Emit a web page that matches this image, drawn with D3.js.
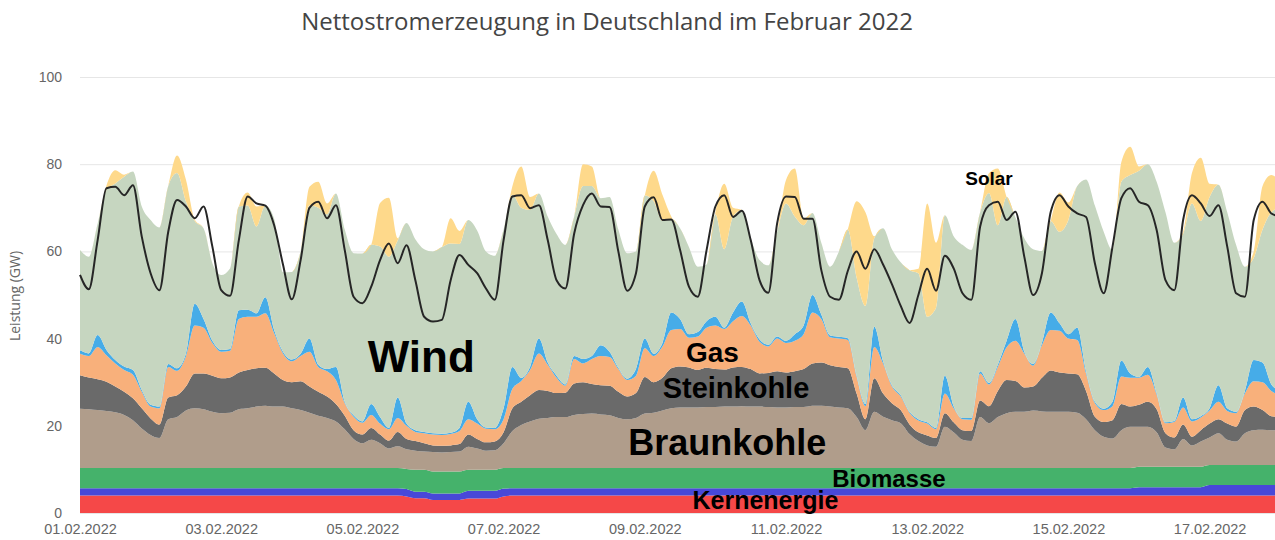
<!DOCTYPE html>
<html>
<head>
<meta charset="utf-8">
<script src="https://cdn.jsdelivr.net/npm/d3@7"></script>
<style>
	body { margin: 0; background: #fff; }
	svg { display: block; font-family: "Open Sans", "Noto Sans", sans-serif; }
	.tick text { fill: #666; }
	#y-axis .tick text { font-size: 14px; }
	#x-axis .tick text { font-size: 14.5px; }
	.title { fill: #444; font-size: 24px; }
	.axis-title { fill: #666; font-size: 14px; }
	.source-label { font-family: "Liberation Sans", Arial, sans-serif; font-weight: bold; fill: #000; }
</style>
</head>
<body>
<svg id="viz" width="1275" height="540"></svg>
<script>

// one value every 3 hours, starting 01.02.2022 00:00 (GW)
const startTime = new Date(2022, 1, 1, 0, 0);
const stepHours = 3;

const kernenergie = [
	4.0, 4.0, 4.0, 4.0, 4.0, 4.0, 4.0, 4.0,
	4.0, 4.0, 4.0, 4.0, 4.0, 4.0, 4.0, 4.0,
	4.0, 4.0, 4.0, 4.0, 4.0, 4.0, 4.0, 4.0,
	4.0, 4.0, 4.0, 4.0, 4.0, 4.0, 4.0, 4.0,
	4.0, 4.0, 4.0, 4.0, 4.0, 3.8, 3.4, 3.4,
	3.0, 3.0, 3.0, 3.0, 3.3, 3.3, 3.3, 3.3,
	3.8, 4.0, 4.0, 4.0, 4.0, 4.0, 4.0, 4.0,
	4.0, 4.0, 4.0, 4.0, 4.0, 4.0, 4.0, 4.0,
	4.0, 4.0, 4.0, 4.0, 4.0, 4.0, 4.0, 4.0,
	4.0, 4.0, 4.0, 4.0, 4.0, 4.0, 4.0, 4.0,
	4.0, 4.0, 4.0, 4.0, 4.0, 4.0, 4.0, 4.0,
	4.0, 4.0, 4.0, 4.0, 4.0, 4.0, 4.0, 4.0,
	4.0, 4.0, 4.0, 4.0, 4.0, 4.0, 4.0, 4.0,
	4.0, 4.0, 4.0, 4.0, 4.0, 4.0, 4.0, 4.0,
	4.0, 4.0, 4.0, 4.0, 4.0, 4.0, 4.0, 4.0,
	4.0, 4.0, 4.0, 4.0, 4.0, 4.0, 4.0, 4.0,
	4.0, 4.0, 4.0, 4.0, 4.0, 4.0, 4.0, 4.0,
	4.0
];

const wasserkraft = [
	1.7, 1.7, 1.7, 1.7, 1.7, 1.7, 1.7, 1.7,
	1.7, 1.7, 1.7, 1.7, 1.7, 1.7, 1.7, 1.7,
	1.7, 1.7, 1.7, 1.7, 1.7, 1.7, 1.7, 1.7,
	1.7, 1.7, 1.7, 1.7, 1.7, 1.7, 1.7, 1.7,
	1.7, 1.7, 1.7, 1.7, 1.7, 1.7, 1.5, 1.5,
	1.5, 1.5, 1.5, 1.5, 1.8, 1.8, 1.8, 1.8,
	1.8, 1.7, 1.7, 1.7, 1.7, 1.7, 1.7, 1.7,
	1.7, 1.7, 1.7, 1.7, 1.7, 1.7, 1.7, 1.7,
	1.7, 1.7, 1.7, 1.7, 1.7, 1.7, 1.7, 1.7,
	1.7, 1.7, 1.7, 1.7, 1.7, 1.7, 1.7, 1.7,
	1.7, 1.7, 1.7, 1.7, 1.7, 1.7, 1.7, 1.7,
	1.7, 1.7, 1.7, 1.7, 1.7, 1.7, 1.7, 1.7,
	1.7, 1.7, 1.7, 1.7, 1.7, 1.7, 1.7, 1.7,
	1.7, 1.7, 1.7, 1.7, 1.7, 1.7, 1.7, 1.7,
	1.7, 1.7, 1.7, 1.7, 1.7, 1.7, 1.7, 1.7,
	1.9, 1.9, 1.9, 1.9, 1.9, 1.9, 1.9, 1.9,
	2.4, 2.4, 2.4, 2.4, 2.4, 2.4, 2.4, 2.4,
	2.4
];

const biomasse = [
	4.6, 4.6, 4.6, 4.6, 4.6, 4.6, 4.6, 4.6,
	4.6, 4.6, 4.6, 4.6, 4.6, 4.6, 4.6, 4.6,
	4.6, 4.6, 4.6, 4.6, 4.6, 4.6, 4.6, 4.6,
	4.6, 4.6, 4.6, 4.6, 4.6, 4.6, 4.6, 4.6,
	4.6, 4.6, 4.6, 4.6, 4.6, 4.6, 5.0, 5.0,
	5.0, 5.0, 5.0, 5.0, 4.8, 4.8, 4.8, 4.8,
	4.7, 4.6, 4.6, 4.6, 4.6, 4.6, 4.6, 4.6,
	4.6, 4.6, 4.6, 4.6, 4.6, 4.6, 4.6, 4.6,
	4.6, 4.6, 4.6, 4.6, 4.6, 4.6, 4.6, 4.6,
	4.6, 4.6, 4.6, 4.6, 4.6, 4.6, 4.6, 4.6,
	4.6, 4.6, 4.6, 4.6, 4.6, 4.6, 4.6, 4.6,
	4.6, 4.6, 4.6, 4.6, 4.6, 4.6, 4.6, 4.6,
	4.6, 4.6, 4.6, 4.6, 4.6, 4.6, 4.6, 4.6,
	4.6, 4.6, 4.6, 4.6, 4.6, 4.6, 4.6, 4.6,
	4.6, 4.6, 4.6, 4.6, 4.6, 4.6, 4.6, 4.6,
	4.7, 4.7, 4.7, 4.7, 4.7, 4.7, 4.7, 4.7,
	4.6, 4.6, 4.6, 4.6, 4.6, 4.6, 4.6, 4.6,
	4.6
];

const braunkohle = [
	13.6, 13.5, 13.3, 13.1, 12.8, 12.2, 11.0, 9.1,
	7.6, 6.9, 11.2, 11.7, 13.2, 13.7, 13.5, 12.9,
	12.6, 12.7, 13.5, 13.7, 14.1, 14.3, 14.1, 14.1,
	13.7, 13.3, 12.7, 12.0, 11.5, 10.7, 8.9, 6.7,
	5.7, 6.5, 5.7, 4.5, 5.0, 4.5, 4.4, 4.2,
	4.5, 4.4, 4.5, 4.6, 5.3, 4.9, 4.4, 4.5,
	5.7, 8.5, 9.9, 10.7, 11.3, 11.5, 11.7, 11.7,
	12.2, 12.4, 12.5, 12.3, 12.1, 11.5, 11.2, 11.5,
	12.5, 12.7, 13.2, 13.7, 13.9, 13.9, 13.9, 14.0,
	14.0, 14.1, 14.1, 14.2, 14.1, 14.1, 14.0, 13.9,
	13.9, 14.0, 14.0, 14.3, 14.3, 14.1, 13.9, 13.7,
	11.7, 8.7, 12.9, 11.8, 11.0, 10.3, 7.8, 6.2,
	5.2, 4.9, 9.5, 8.2, 6.5, 6.2, 11.7, 10.3,
	11.7, 12.6, 12.9, 12.9, 13.2, 13.0, 12.9, 12.9,
	12.9, 12.7, 11.2, 8.7, 7.2, 6.8, 8.7, 9.5,
	9.2, 9.2, 7.9, 4.4, 4.0, 6.4, 4.9, 5.8,
	6.3, 7.3, 5.8, 5.4, 7.3, 8.0, 8.1, 8.0,
	8.0
];

const steinkohle = [
	7.7, 7.3, 7.1, 6.7, 5.9, 5.3, 5.0, 4.6,
	3.8, 3.1, 5.0, 5.0, 5.5, 8.0, 8.2, 8.3,
	8.0, 8.1, 8.4, 8.8, 8.8, 8.7, 7.6, 6.1,
	6.0, 6.6, 6.0, 5.5, 4.9, 4.0, 3.1, 2.0,
	2.0, 2.7, 2.0, 1.8, 3.3, 2.4, 2.2, 1.9,
	1.5, 1.5, 1.5, 1.7, 2.8, 2.2, 1.9, 2.0,
	2.5, 5.2, 5.3, 6.0, 6.6, 6.2, 5.5, 5.6,
	7.2, 7.3, 6.8, 6.7, 6.8, 6.0, 5.2, 5.7,
	8.4, 7.0, 7.5, 9.2, 9.4, 9.2, 8.6, 9.0,
	8.7, 8.5, 9.0, 9.0, 8.6, 7.6, 7.8, 8.3,
	8.0, 8.2, 8.7, 9.7, 9.9, 9.5, 9.3, 9.2,
	5.4, 2.5, 7.7, 5.3, 3.9, 3.0, 2.2, 2.0,
	2.3, 2.0, 3.1, 2.3, 2.2, 2.3, 3.8, 3.9,
	6.0, 7.6, 7.1, 5.6, 5.5, 7.7, 9.5, 9.0,
	8.8, 8.8, 6.5, 3.1, 3.4, 4.2, 6.0, 4.6,
	5.0, 5.7, 5.3, 3.3, 2.7, 3.3, 2.0, 2.6,
	3.2, 3.2, 3.7, 3.4, 5.3, 5.4, 4.5, 3.2,
	3.0
];

const gas = [
	4.9, 4.9, 7.4, 6.1, 5.3, 5.0, 5.4, 3.8,
	2.7, 3.7, 7.0, 5.6, 6.9, 11.0, 10.5, 7.5,
	6.1, 6.1, 12.3, 12.2, 11.8, 12.5, 9.2, 6.1,
	4.8, 5.8, 8.0, 5.7, 5.8, 5.5, 2.9, 3.1,
	2.7, 3.0, 2.5, 2.6, 3.2, 3.0, 2.1, 2.3,
	2.5, 2.5, 2.6, 3.0, 3.5, 3.5, 3.1, 2.8,
	3.0, 4.5, 4.8, 5.8, 8.4, 6.0, 3.5, 1.6,
	5.6, 4.3, 5.7, 6.7, 6.6, 5.2, 3.8, 4.0,
	6.6, 6.0, 7.2, 8.8, 8.6, 6.8, 7.7, 9.2,
	10.0, 9.3, 10.6, 11.7, 10.0, 7.3, 6.1, 7.5,
	6.8, 7.0, 8.0, 11.7, 10.0, 6.4, 6.5, 6.5,
	3.9, 3.0, 7.2, 6.9, 3.8, 3.1, 2.7, 2.7,
	2.7, 2.0, 4.5, 3.2, 2.5, 2.6, 6.2, 5.0,
	5.5, 7.5, 9.2, 7.8, 4.8, 7.5, 9.3, 9.6,
	8.0, 7.9, 4.0, 3.1, 2.7, 3.2, 6.3, 6.6,
	6.2, 6.2, 3.4, 2.3, 3.6, 3.9, 3.5, 2.9,
	3.0, 4.0, 2.9, 3.1, 3.8, 5.8, 6.4, 5.8,
	5.0
];

const pumpspeicher = [
	0.8, 0.6, 2.7, 1.2, 0.8, 0.8, 1.1, 0.4,
	0.4, 0.4, 0.7, 0.6, 0.6, 5.0, 2.0, 0.5,
	0.4, 0.4, 2.0, 1.6, 0.8, 3.7, 0.8, 0.4,
	0.4, 0.5, 3.0, 0.5, 0.5, 3.0, 0.3, 0.3,
	0.3, 2.5, 1.5, 0.3, 4.7, 0.5, 0.4, 0.3,
	0.3, 0.3, 0.3, 0.7, 4.0, 1.0, 0.3, 0.3,
	2.5, 5.0, 0.7, 0.7, 3.4, 0.5, 0.5, 0.3,
	0.7, 1.0, 0.7, 2.5, 1.2, 0.3, 0.3, 1.5,
	2.2, 0.5, 0.8, 4.0, 2.3, 0.8, 1.0, 1.5,
	2.0, 0.3, 2.0, 3.3, 0.5, 0.5, 0.4, 0.5,
	0.5, 1.5, 2.0, 4.0, 1.0, 0.4, 0.4, 0.4,
	0.3, 0.5, 4.6, 0.5, 0.3, 0.3, 0.2, 0.3,
	0.3, 0.3, 4.1, 0.5, 0.3, 0.4, 0.5, 0.3,
	0.5, 1.5, 5.0, 0.4, 0.4, 0.5, 4.0, 1.7,
	1.0, 2.8, 0.5, 0.3, 0.3, 1.0, 3.7, 1.0,
	0.2, 1.8, 0.3, 0.2, 0.2, 2.3, 0.5, 0.3,
	0.5, 3.8, 0.6, 0.3, 0.6, 4.9, 4.5, 1.5,
	1.0
];

const wind = [
	23.0, 22.2, 25.6, 36.7, 40.5, 43.5, 45.5, 42.1,
	42.4, 41.1, 40.8, 44.8, 35.0, 19.0, 20.8, 17.8,
	17.2, 18.5, 23.8, 23.9, 19.9, 21.0, 25.5, 18.2,
	20.1, 23.5, 30.6, 36.0, 35.5, 39.8, 39.5, 37.2,
	38.5, 36.5, 39.1, 39.3, 36.0, 46.0, 43.8, 41.9,
	41.7, 42.8, 43.4, 42.2, 41.7, 43.3, 40.4, 39.5,
	41.0, 39.5, 39.0, 36.0, 33.3, 33.5, 32.5, 32.0,
	32.0, 39.7, 39.0, 33.7, 35.5, 31.7, 28.8, 27.0,
	32.8, 35.0, 28.0, 21.5, 20.8, 20.0, 15.0, 13.0,
	23.5, 18.0, 22.0, 21.0, 19.5, 18.2, 18.2, 24.0,
	31.5, 27.0, 23.0, 18.8, 16.5, 15.8, 19.6, 24.9,
	22.4, 22.5, 20.3, 30.5, 31.2, 30.5, 32.5, 33.5,
	24.2, 27.5, 36.8, 39.0, 39.7, 38.5, 36.5, 43.6,
	32.0, 33.0, 23.3, 26.0, 26.3, 21.1, 21.0, 21.0,
	26.2, 32.5, 44.0, 45.0, 40.6, 34.8, 41.0, 45.5,
	47.3, 46.5, 48.5, 48.2, 40.9, 37.5, 49.5, 44.8,
	48.5, 46.0, 45.0, 38.3, 28.5, 23.4, 30.5, 39.5,
	42.0
];

const solar = [
	0, 0, 0, 1.0, 3.0, 0.5, 0, 0,
	0, 0, 0, 4.0, 5.0, 0.3, 0, 0,
	0, 0, 0, 3.0, 4.6, 0, 0, 0,
	0, 0, 4.2, 6.0, 2.5, 0, 0, 0,
	0, 0, 10.0, 13.5, 0.5, 0, 0, 0,
	0, 0, 5.8, 3.0, 0, 0, 0, 0,
	0, 2.0, 9.5, 3.0, 0, 0, 0, 0,
	0, 5.0, 4.5, 0, 0, 0, 0, 0,
	0, 7.0, 6.0, 0.5, 0, 0, 0, 0,
	0.5, 15.0, 2.0, 0, 0, 0, 0, 0,
	5.4, 11.0, 1.5, 0, 0, 0, 0, 0,
	17.5, 21.5, 0.5, 0, 0, 0, 0, 1.0,
	26.0, 15.0, 0, 0, 0, 0, 0, 4.5,
	13.0, 0, 0, 0, 0, 0, 0, 9.0,
	4.0, 0, 0, 0, 0, 0, 4.5, 6.5,
	1.0, 0, 0, 0, 0, 0.5, 7.0, 14.5,
	3.0, 0, 0, 0, 0, 1.5, 10.0, 8.5,
	6.0
];

// Last (black line)
const last = [
	54.6, 51.3, 62.6, 74.5, 74.8, 72.9, 75.2, 63.4,
	55.0, 51.1, 64.5, 71.8, 70.3, 67.6, 70.3, 61.1,
	51.1, 49.8, 62.6, 72.6, 71.0, 70.5, 66.0, 57.0,
	49.0, 58.0, 70.0, 71.4, 67.6, 70.6, 60.3, 49.6,
	48.1, 51.9, 58.0, 61.8, 57.3, 61.4, 53.4, 45.0,
	43.9, 44.3, 53.4, 59.2, 56.9, 55.0, 51.5, 48.9,
	62.6, 72.6, 72.9, 69.9, 70.6, 62.6, 53.4, 51.5,
	64.1, 70.6, 73.3, 70.3, 70.2, 60.0, 51.0, 55.0,
	70.3, 72.4, 67.2, 67.3, 60.3, 51.9, 49.6, 60.3,
	70.3, 72.9, 67.9, 69.3, 62.6, 53.4, 50.5, 66.5,
	72.6, 72.5, 67.5, 67.5, 55.7, 49.6, 48.9, 55.5,
	60.0, 56.0, 60.5, 57.0, 52.5, 47.5, 43.6, 50.0,
	56.0, 51.0, 59.0, 56.1, 50.4, 48.9, 65.7, 70.6,
	71.4, 67.2, 69.1, 58.8, 50.0, 55.0, 69.1, 72.9,
	70.3, 68.7, 67.9, 57.3, 50.4, 61.1, 72.2, 74.5,
	71.4, 70.6, 64.9, 53.4, 51.1, 67.2, 72.9, 71.0,
	68.1, 70.6, 61.1, 50.4, 49.6, 67.2, 71.4, 68.7,
	68.0
];

const yTicks = [0, 20, 40, 60, 80, 100];
const xTickLabels = ["01.02.2022", "03.02.2022", "05.02.2022", "07.02.2022", "09.02.2022",
	"11.02.2022", "13.02.2022", "15.02.2022", "17.02.2022"];

// name, colour (bottom to top)
const sourceKeys = ["Kernenergie", "Wasserkraft", "Biomasse", "Braunkohle", "Steinkohle", "Gas", "Pumpspeicher", "Wind", "Solar"];
const sourceColors = ["#f54848", "#4848d8", "#45b26b", "#b09d8b", "#6a6a6a", "#f8b07b", "#46ace8", "#c6d6c0", "#fed98b"];

// text placed inside the areas: label, day offset, GW (baseline), font size
const areaLabels = [
	["Wind", 4.87, 32.3, 44],
	["Gas", 8.97, 34.6, 28],
	["Steinkohle", 9.32, 26.4, 29],
	["Braunkohle", 9.19, 13.3, 36],
	["Biomasse", 11.46, 6.0, 24],
	["Kernenergie", 9.73, 0.9, 25],
	["Solar", 12.9, 75.2, 19]
];


let drawEverything = function() {

	const margin = {
		top:	77,
		right:	0,
		bottom: 27,
		left:	80
	};

	let svg = d3.select("body").select("svg#viz");
	let plotHeight = 540 - margin.top - margin.bottom;
	let dayWidth = 70.6;

	let rows = kernenergie.map(function(d, i) {
		return {
			time: d3.timeHour.offset(startTime, i * stepHours),
			Kernenergie: d,
			Wasserkraft: wasserkraft[i],
			Biomasse: biomasse[i],
			Braunkohle: braunkohle[i],
			Steinkohle: steinkohle[i],
			Gas: gas[i],
			Pumpspeicher: pumpspeicher[i],
			Wind: wind[i],
			Solar: solar[i],
			Last: last[i]
		};
	});

	let endTime = d3.timeDay.offset(startTime, 17);

	let xScale = d3.scaleTime()
		.domain([startTime, endTime])
		.range([0, dayWidth * 17]);

	let yScale = d3.scaleLinear()
		.domain([0, 100])
		.range([plotHeight, 0]);

	let colorScale = d3.scaleOrdinal()
		.domain(sourceKeys)
		.range(sourceColors);

	let plot = svg.append("g").attr("id", "plot")
		.attr("transform", `translate(${margin.left}, ${margin.top})`);

	// grid lines + y labels
	let yAxis = d3.axisLeft(yScale)
		.tickValues(yTicks)
		.tickSize(-(1275 - margin.left))
		.tickPadding(18);
	let yGroup = plot.append("g").attr("id", "y-axis").call(yAxis);
	yGroup.select(".domain").remove();
	yGroup.selectAll(".tick line").attr("stroke", "#e6e6e6");

	// stacked areas
	let stacked = d3.stack().keys(sourceKeys)(rows);

	let area = d3.area()
		.x(d => xScale(d.data.time))
		.y0(d => yScale(d[0]))
		.y1(d => yScale(d[1]))
		.curve(d3.curveMonotoneX);

	plot.selectAll("path.layer")
		.data(stacked)
		.enter().append("path")
		.attr("class", "layer")
		.attr("fill", d => colorScale(d.key))
		.attr("d", area);

	// load line
	let line = d3.line()
		.x(d => xScale(d.time))
		.y(d => yScale(d.Last))
		.curve(d3.curveMonotoneX);

	plot.append("path")
		.datum(rows)
		.attr("fill", "none")
		.attr("stroke", "#262626")
		.attr("stroke-width", 2)
		.attr("d", line);

	// x axis
	let parseDay = d3.timeParse("%d.%m.%Y");
	let xAxis = d3.axisBottom(xScale)
		.tickValues(xTickLabels.map(parseDay))
		.tickFormat(d3.timeFormat("%d.%m.%Y"))
		.tickSize(0)
		.tickPadding(11);
	let xGroup = plot.append("g").attr("id", "x-axis")
		.attr("transform", "translate(0," + plotHeight + ")")
		.call(xAxis);
	xGroup.select(".domain").remove();

	// labels in the areas
	plot.selectAll("text.source-label")
		.data(areaLabels)
		.enter().append("text")
		.attr("class", "source-label")
		.attr("x", d => xScale(d3.timeHour.offset(startTime, d[1] * 24)))
		.attr("y", d => yScale(d[2]))
		.attr("text-anchor", "middle")
		.attr("font-size", d => d[3] + "px")
		.text(d => d[0]);

	// titles
	svg.append("text")
		.attr("class", "title")
		.attr("x", 607)
		.attr("y", 30)
		.attr("text-anchor", "middle")
		.text("Nettostromerzeugung in Deutschland im Februar 2022");

	svg.append("text")
		.attr("class", "axis-title")
		.attr("transform", "translate(20, 296) rotate(-90)")
		.attr("text-anchor", "middle")
		.text("Leistung (GW)");
};

drawEverything();
</script>
</body>
</html>
